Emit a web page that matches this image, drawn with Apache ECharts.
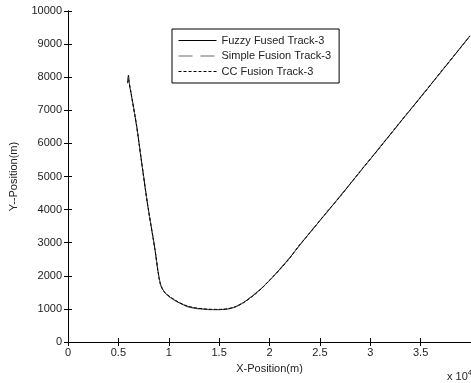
<!DOCTYPE html>
<html>
<head>
<meta charset="utf-8">
<script src="https://cdn.jsdelivr.net/npm/echarts@6/dist/echarts.min.js"></script>
<style>html,body{margin:0;padding:0;background:#fff;}#c{width:471px;height:383px;}</style>
</head>
<body>
<div id="c"></div>
<script>
// X positions in units of 1e4 m
const xTicks = [0, 0.5, 1, 1.5, 2, 2.5, 3, 3.5, 4];
const yTicks = [0, 1000, 2000, 3000, 4000, 5000, 6000, 7000, 8000, 9000, 10000];
const seriesNames = ['Fuzzy Fused Track-3', 'Simple Fusion Track-3', 'CC Fusion Track-3'];

const xFuzzy = [0.590, 0.600, 0.607, 0.614, 0.62, 0.68, 0.73, 0.79, 0.86, 0.89, 0.905, 0.92, 0.94, 0.97, 1.02, 1.10, 1.19, 1.29, 1.39, 1.49, 1.58, 1.66, 1.74, 1.84, 1.93, 2.01, 2.10, 2.20, 2.30, 2.40, 2.55, 2.70, 2.90, 3.10, 3.30, 3.50, 3.70, 3.99];
const yFuzzy = [7820, 8060, 7880, 7700, 7620, 6550, 5450, 4150, 2860, 2200, 1920, 1720, 1590, 1460, 1340, 1190, 1070, 1010, 985, 980, 995, 1060, 1190, 1410, 1650, 1890, 2190, 2540, 2930, 3300, 3850, 4400, 5150, 5900, 6650, 7400, 8150, 9250];

const xSimple = [0.60, 0.62, 0.68, 0.73, 0.79, 0.86, 0.89, 0.905, 0.92, 0.94, 0.97, 1.02, 1.10, 1.19, 1.29, 1.39, 1.49, 1.58, 1.66, 1.74, 1.84, 1.93, 2.01, 2.10, 2.20, 2.30, 2.40, 2.55, 2.70, 2.90, 3.10, 3.30, 3.50, 3.70, 3.99];
const ySimple = [7950, 7640, 6540, 5460, 4140, 2870, 2190, 1930, 1710, 1600, 1450, 1330, 1180, 1060, 1000, 978, 975, 990, 1055, 1200, 1420, 1660, 1880, 2200, 2550, 2920, 3310, 3840, 4410, 5140, 5910, 6640, 7410, 8140, 9260];

const xCC = [0.60, 0.62, 0.68, 0.73, 0.79, 0.86, 0.89, 0.905, 0.92, 0.94, 0.97, 1.02, 1.10, 1.19, 1.29, 1.39, 1.49, 1.58, 1.66, 1.74, 1.84, 1.93, 2.01, 2.10, 2.20, 2.30, 2.40, 2.55, 2.70, 2.90, 3.10, 3.30, 3.50, 3.70, 3.99];
const yCC = [7930, 7610, 6560, 5440, 4160, 2850, 2210, 1910, 1730, 1580, 1470, 1350, 1200, 1080, 1020, 990, 985, 1000, 1065, 1180, 1400, 1640, 1900, 2180, 2530, 2940, 3290, 3860, 4390, 5160, 5890, 6660, 7390, 8160, 9240];

function zip(xs, ys) { return xs.map((x, i) => [x, ys[i]]); }

const chart = echarts.init(document.getElementById('c'), null, {renderer: 'canvas'});
const font = 'Liberation Sans, Arial, sans-serif';
const axisCommon = {
  axisLine: {show: true, lineStyle: {color: '#000', width: 1}},
  axisTick: {show: true, inside: true, length: 4, lineStyle: {color: '#000'}},
  splitLine: {show: false},
};
chart.setOption({
  animation: false,
  backgroundColor: '#fff',
  grid: {left: 66, top: 11, width: 406.6, height: 331, containLabel: false},
  xAxis: [
    Object.assign({type: 'value', min: xTicks[0], max: xTicks[xTicks.length - 1], interval: 0.5, position: 'bottom',
      name: 'X-Position(m)', nameLocation: 'middle', nameGap: 21,
      nameTextStyle: {fontFamily: font, fontSize: 11, color: '#222'},
      axisLabel: {margin: 5, fontFamily: font, fontSize: 11, color: '#222', showMaxLabel: false,
        formatter: v => String(v)}}, axisCommon),
    Object.assign({type: 'value', min: 0, max: 4, interval: 0.5, position: 'top', axisLabel: {show: false}}, axisCommon)
  ],
  yAxis: [
    Object.assign({type: 'value', min: yTicks[0], max: yTicks[yTicks.length - 1], interval: 1000, position: 'left',
      name: 'Y--Position(m)', nameLocation: 'middle', nameGap: 49, nameRotate: 90,
      nameTextStyle: {fontFamily: font, fontSize: 11, color: '#222'},
      axisLabel: {margin: 6, fontFamily: font, fontSize: 11, color: '#222', formatter: v => String(v)}}, axisCommon),
    Object.assign({type: 'value', min: 0, max: 10000, interval: 1000, position: 'right', axisLabel: {show: false}}, axisCommon)
  ],
  legend: {
    left: 172, top: 29, orient: 'vertical',
    backgroundColor: '#fff', borderColor: '#000', borderWidth: 1,
    padding: [6, 8, 6, 6], itemWidth: 38, itemHeight: 12, itemGap: 4.5,
    textStyle: {fontFamily: font, fontSize: 11, color: '#222'},
    itemStyle: {opacity: 0},
    lineStyle: {width: 1},
    data: seriesNames
  },
  graphic: [{
    type: 'text', left: 447, top: 370,
    style: {text: '{a|x 10}{b|4}', rich: {a: {fontFamily: font, fontSize: 11, fill: '#222'}, b: {fontFamily: font, fontSize: 7, fill: '#222', verticalAlign: 'top', padding: [0, 0, 6, 0]}}}
  }],
  series: [
    {name: seriesNames[0], type: 'line', symbol: 'none', smooth: 0.2, data: zip(xFuzzy, yFuzzy), lineStyle: {color: '#000', width: 1, type: 'solid'}, itemStyle: {color: '#000'}},
    {name: seriesNames[1], type: 'line', symbol: 'none', smooth: 0.2, data: zip(xSimple, ySimple), lineStyle: {color: '#6a6a6a', width: 1, type: [14, 8]}, itemStyle: {color: '#6a6a6a'}},
    {name: seriesNames[2], type: 'line', symbol: 'none', smooth: 0.2, data: zip(xCC, yCC), lineStyle: {color: '#000', width: 1, type: [3, 2]}, itemStyle: {color: '#000'}}
  ]
});
</script>
</body>
</html>
